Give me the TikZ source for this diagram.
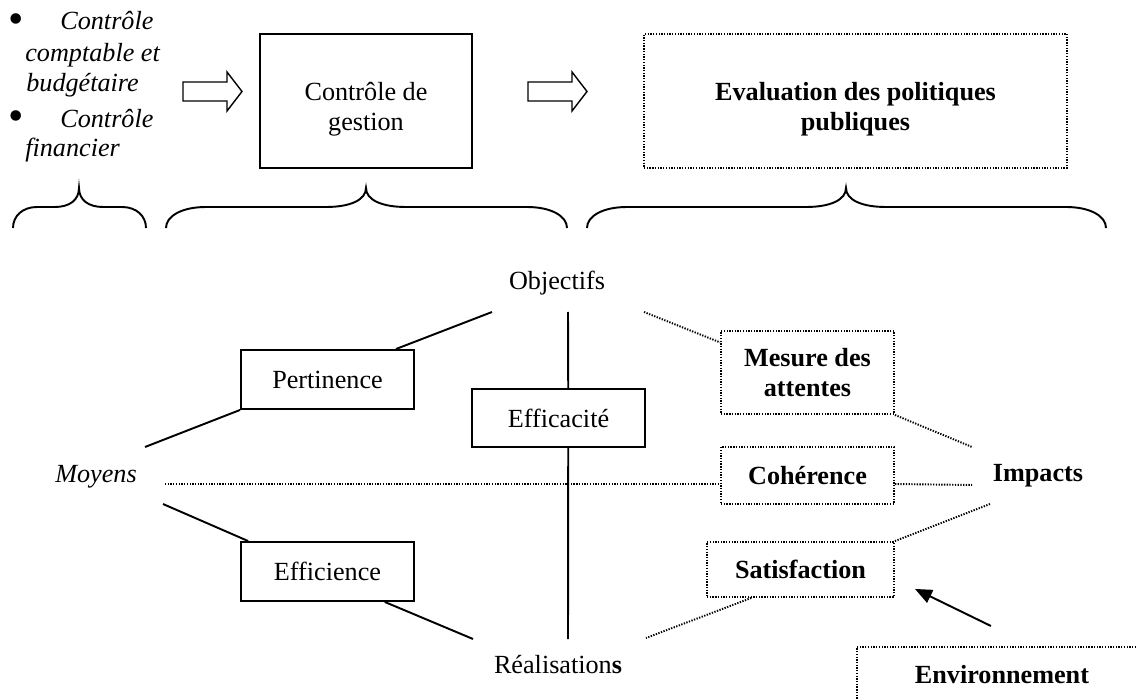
\documentclass[tikz,border=0pt]{standalone}
\usepackage{fontspec}
\setmainfont{Liberation Serif}
\usetikzlibrary{arrows.meta,calc}

\newcommand{\taille}{\fontsize{14.9}{17}\selectfont}
\newcommand{\accolade}[4]{%
  \draw[trait] (#1,228) .. controls (#1,216) and (#1+0.4*#4,207) .. (#1+#4,207)
    -- (#2-#4,207) .. controls (#2-0.4*#4,207) and (#2,200) .. (#2,188)
    .. controls (#2,200) and (#2+0.4*#4,207) .. (#2+#4,207)
    -- (#3-#4,207) .. controls (#3-0.4*#4,207) and (#3,216) .. (#3,228);}

\begin{document}
\begin{tikzpicture}[x=0.02cm,y=-0.02cm,font=\taille,
  trait/.style={line width=1.1pt},
  pointille/.style={line width=1.1pt,dash pattern=on 0.75pt off 0.8pt},
  boite/.style={draw,trait,align=center,inner sep=0pt,minimum width=3.46cm},
  boitept/.style={draw,pointille,align=center,inner sep=0pt,font=\taille\bfseries,minimum width=3.46cm},
  texte/.style={inner sep=0pt},
  puce/.style={inner sep=0pt,font=\fontsize{25}{25}\selectfont},
  liste/.style={inner sep=0pt,anchor=base west,font=\taille\itshape},
  fleche/.style={trait,-{Triangle[length=0.34cm,width=0.28cm]}},
  creuse/.style={line width=0.8pt}]
  \useasboundingbox (0,0) rectangle (1137,699);
  \clip (0,0) rectangle (1137,699);

  \node[puce] (puce1) at (16,24) {\textbullet};
  \node[liste] (ligne1) at (60,30) {Contrôle};
  \node[liste] (ligne2) at (25,62) {comptable et};
  \node[liste] (ligne3) at (26,92) {budgétaire};
  \node[puce] (puce2) at (16,121) {\textbullet};
  \node[liste] (ligne4) at (60,128) {Contrôle};
  \node[liste] (ligne5) at (25,157) {financier};

  \foreach \xa in {183,528}
    \draw[creuse] (\xa,82) -- ++(44,0) -- ++(0,-10) -- ++(15,19.5) -- ++(-15,19.5)
      -- ++(0,-10) -- ++(-44,0) -- cycle;

  \node[boite,minimum width=4.24cm,minimum height=2.68cm] (gestion) at (366,101)
    {\rule{0pt}{0.68cm}Contrôle de\\gestion};
  \node[boitept,minimum width=8.46cm,minimum height=2.68cm] (evaluation) at (855.5,101)
    {\rule{0pt}{0.68cm}Evaluation des politiques\\publiques};

  \accolade{13}{79}{146}{24}
  \accolade{166}{366}{567}{40}
  \accolade{587}{846}{1106}{40}

  \node[texte,anchor=base] (objectifs) at (557,290) {Objectifs};
  \node[texte,anchor=base,font=\taille\itshape] (moyens) at (96,482) {Moyens};
  \node[texte,anchor=base] (realisations) at (558,673) {Réalisation\textbf{s}};
  \node[texte,anchor=base,font=\taille\bfseries] (impacts) at (1038,481) {Impacts};

  \node[boite,minimum height=1.18cm] (pertinence) at (327.5,379.5) {Pertinence};
  \node[boite,minimum height=1.16cm] (efficacite) at (558.5,418) {Efficacité};
  \node[boite,minimum height=1.18cm] (efficience) at (327.5,571.5) {Efficience};
  \node[boitept,minimum height=1.66cm] (mesure) at (807.5,372.5) {Mesure des\\attentes};
  \node[boitept,minimum height=1.14cm] (coherence) at (807.5,475.5) {Cohérence};
  \node[boitept,minimum width=3.74cm,minimum height=1.10cm] (satisfaction) at (800.5,569.5) {Satisfaction};
  \node[boitept,anchor=north west,minimum width=5.8cm,minimum height=1.12cm] (environnement) at (856,646) {Environnement};

  \coordinate (objG) at ($(objectifs.base)+(-65,22)$);
  \coordinate (objM) at ($(objectifs.base)+(11,22)$);
  \coordinate (objD) at ($(objectifs.base)+(87,22)$);
  \coordinate (realG) at ($(realisations.base)+(-85,-34)$);
  \coordinate (realM) at ($(realisations.base)+(10,-34)$);
  \coordinate (realD) at ($(realisations.base)+(88,-35)$);
  \coordinate (moyH) at ($(moyens.base)+(49,-35)$);
  \coordinate (moyD) at ($(moyens.base)+(69,2)$);
  \coordinate (moyB) at ($(moyens.base)+(67,22)$);
  \coordinate (impH) at ($(impacts.base)+(-66,-34)$);
  \coordinate (impD) at ($(impacts.base)+(-66,4)$);
  \coordinate (impB) at ($(impacts.base)+(-48,23)$);

  \draw[trait] (objG) -- (pertinence.24);
  \draw[trait] (pertinence.south west) -- (moyH);
  \draw[trait] (moyB) -- (efficience.159);
  \draw[trait] (efficience.-28) -- (realG);
  \draw[trait] (objM) -- (efficacite.72);
  \draw[trait] (efficacite.-72) -- (realM);
  \draw[pointille] (objD) -- (mesure.161);
  \draw[pointille] (mesure.south east) -- (impH);
  \draw[pointille] (moyD) -- (moyD -| coherence.west);
  \draw[pointille] (moyD -| coherence.east) -- (impD);
  \draw[pointille] (impB) -- (satisfaction.north east);
  \draw[pointille] (satisfaction.210) -- (realD);
  \draw[fleche] ($(environnement.north)+(-11,-20)$) -- ($(satisfaction.south east)+(20,-9)$);
\end{tikzpicture}
\end{document}
